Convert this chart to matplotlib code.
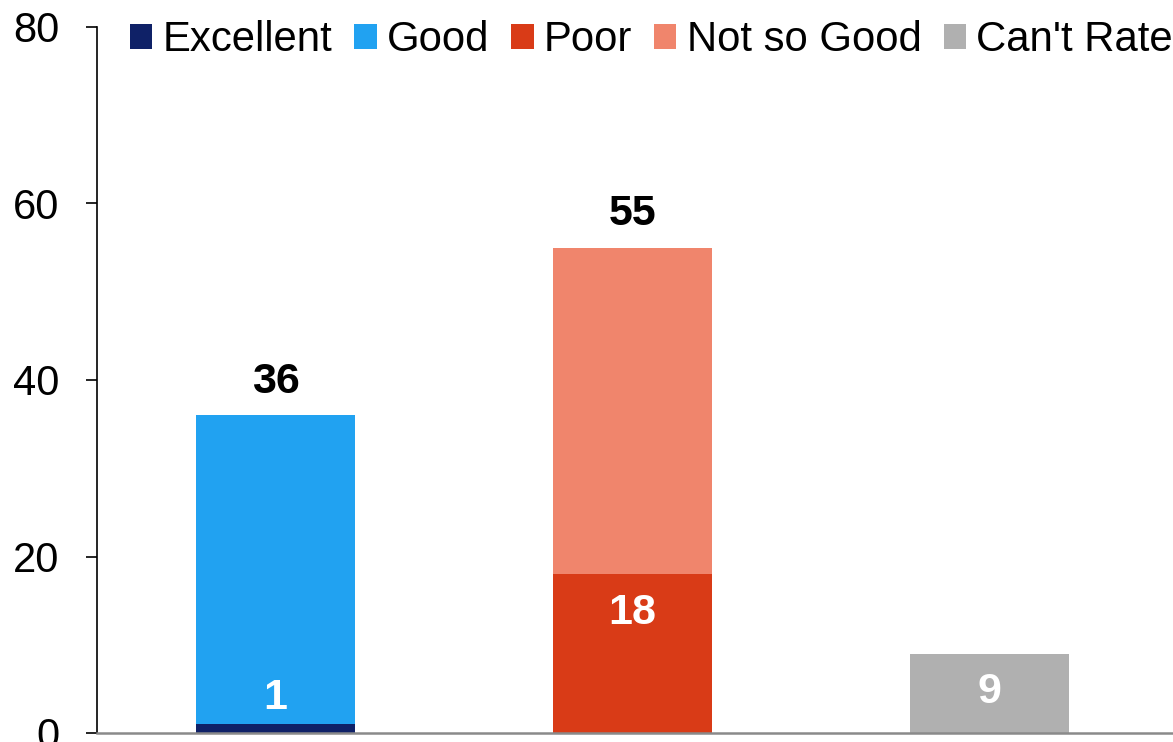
import matplotlib.pyplot as plt
from matplotlib.patches import Patch

plt.rcParams['font.family'] = ['Liberation Sans', 'DejaVu Sans']

# stacked segments per bar, bottom to top
positions = [0, 1, 2]
excellent = [1, 0, 0]
good = [35, 0, 0]
poor = [0, 18, 0]
not_so_good = [0, 37, 0]
cant_rate = [0, 0, 9]

legend_names = ["Excellent", "Good", "Poor", "Not so Good", "Can't Rate"]
colors = ["#0F2167", "#21A2F1", "#D93B17", "#F0856C", "#B0B0B0"]

fig = plt.figure(figsize=(11.73, 7.42), dpi=100)
ax = fig.add_axes([97 / 1173, 9 / 742, 1076 / 1173, 706 / 742])

width = 0.445
bottom = [0, 0, 0]
for vals, col in zip([excellent, good, poor, not_so_good, cant_rate], colors):
    ax.bar(positions, vals, width, bottom=bottom, color=col, linewidth=0)
    bottom = [b + v for b, v in zip(bottom, vals)]

totals = bottom

# bold totals above the bars
for x, t, show in zip(positions, totals, [True, True, False]):
    if show:
        ax.annotate(str(t), (x, t), xytext=(0, 24), textcoords='offset points',
                    ha='center', va='center', fontsize=31, fontweight='bold',
                    color='black')

# white labels inside the bars
ax.annotate(str(excellent[0]), (0, excellent[0]), xytext=(0, 19),
            textcoords='offset points', ha='center', va='center',
            fontsize=31, fontweight='bold', color='white')
ax.annotate(str(poor[1]), (1, poor[1]), xytext=(0, -28),
            textcoords='offset points', ha='center', va='center',
            fontsize=31, fontweight='bold', color='white')
ax.annotate(str(cant_rate[2]), (2, cant_rate[2]), xytext=(0, -28),
            textcoords='offset points', ha='center', va='center',
            fontsize=31, fontweight='bold', color='white')

ax.set_xlim(-0.5, 2.515)
ax.set_ylim(0, 80)
ax.set_yticks([0, 20, 40, 60, 80])
ax.set_xticks([])
ax.tick_params(axis='y', labelsize=30, length=8, width=1.2, pad=19,
               direction='out', color='black')
for side in ['top', 'right']:
    ax.spines[side].set_visible(False)
ax.spines['left'].set_linewidth(1.2)
ax.spines['bottom'].set_color('#8A8A8A')
ax.spines['bottom'].set_linewidth(1.8)

handles = [Patch(facecolor=c, edgecolor='none') for c in colors]
fig.legend(handles, legend_names, loc='center left',
           bbox_to_anchor=(130 / 1173, 1 - 40 / 742), ncol=5, frameon=False,
           fontsize=30.2, handlelength=0.53, handleheight=0.53,
           handletextpad=0.25, columnspacing=0.52, borderpad=0,
           borderaxespad=0)

fig.savefig('out.png', dpi=100)
